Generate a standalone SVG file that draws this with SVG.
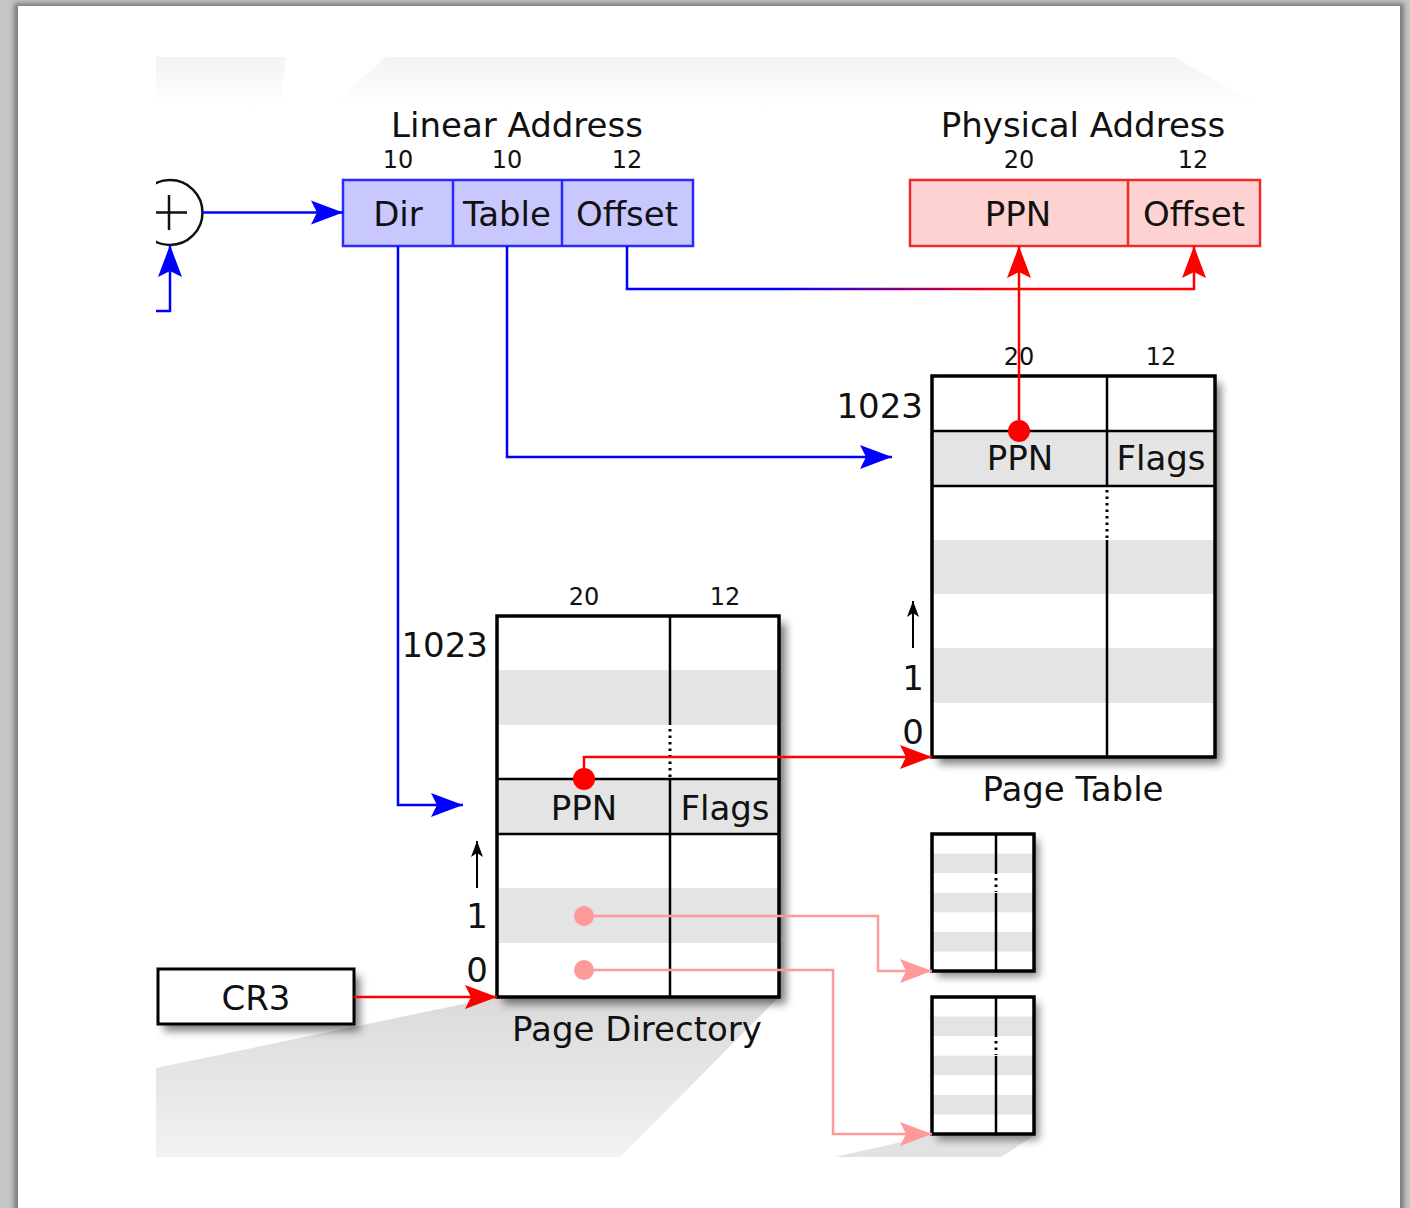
<svg xmlns="http://www.w3.org/2000/svg" xmlns:xlink="http://www.w3.org/1999/xlink" width="1410" height="1208" viewBox="0 0 1410 1208">
  <style>
    text { font-family: "DejaVu Sans", "Liberation Sans", sans-serif; fill: #111; }
    .big { font-size: 34px; }
    .small { font-size: 24px; }
    .mid { text-anchor: middle; }
    .end { text-anchor: end; }
    .border { fill: none; stroke: #000; stroke-width: 3.5; }
    .grid { fill: none; stroke: #000; stroke-width: 2.5; }
    .dots { fill: none; stroke: #000; stroke-width: 3; stroke-dasharray: 2.5 4; }
    .band { fill: #e4e4e4; }
    .blue { fill: none; stroke: #0000ff; stroke-width: 2.5; }
    .red { fill: none; stroke: #ff0000; stroke-width: 2.5; }
    .pink { fill: none; stroke: #ff9a9a; stroke-width: 2.5; }
  </style>
  <defs>
    <filter id="soft" x="-20%" y="-20%" width="140%" height="140%">
      <feGaussianBlur stdDeviation="4"/>
    </filter>
    <filter id="pageShadow" x="-5%" y="-5%" width="110%" height="110%">
      <feGaussianBlur stdDeviation="2.5"/>
    </filter>
    <clipPath id="sheet">
      <rect x="156" y="57" width="1200" height="1100"/>
    </clipPath>
    <linearGradient id="offsetGrad" gradientUnits="userSpaceOnUse" x1="780" y1="0" x2="1010" y2="0">
      <stop offset="0" stop-color="#0000ff"/>
      <stop offset="1" stop-color="#ff0000"/>
    </linearGradient>
    <linearGradient id="floorGrad" gradientUnits="userSpaceOnUse" x1="0" y1="997" x2="0" y2="1157">
      <stop offset="0" stop-color="#dadada"/>
      <stop offset="1" stop-color="#f2f2f2"/>
    </linearGradient>
    <linearGradient id="topFade" x1="0" y1="0" x2="0" y2="1">
      <stop offset="0" stop-color="#f3f3f3"/>
      <stop offset="1" stop-color="#ffffff"/>
    </linearGradient>
    <marker id="ahBlue" markerUnits="userSpaceOnUse" viewBox="-34 -15 36 30" markerWidth="36" markerHeight="30" refX="0" refY="0" orient="auto">
      <path d="M0,0 L-32,-12 L-26,0 L-32,12 Z" fill="#0000ff"/>
    </marker>
    <marker id="ahRed" markerUnits="userSpaceOnUse" viewBox="-34 -15 36 30" markerWidth="36" markerHeight="30" refX="0" refY="0" orient="auto">
      <path d="M0,0 L-32,-12 L-26,0 L-32,12 Z" fill="#ff0000"/>
    </marker>
    <marker id="ahPink" markerUnits="userSpaceOnUse" viewBox="-34 -15 36 30" markerWidth="36" markerHeight="30" refX="0" refY="0" orient="auto">
      <path d="M0,0 L-32,-12 L-26,0 L-32,12 Z" fill="#ff9a9a"/>
    </marker>
    <marker id="ahBlack" markerUnits="userSpaceOnUse" viewBox="-18 -8 20 16" markerWidth="20" markerHeight="16" refX="0" refY="0" orient="auto">
      <path d="M0,0 L-16,-6 L-12,0 L-16,6 Z" fill="#000"/>
    </marker>
    <!-- small page table, local coordinates 102 x 137, seven rows -->
    <g id="mini">
      <rect x="5" y="6" width="102" height="137" fill="#000" opacity="0.45" filter="url(#soft)"/>
      <rect x="0" y="0" width="102" height="137" fill="#fff"/>
      <rect class="band" x="0" y="19.6" width="102" height="19.6"/>
      <rect class="band" x="0" y="58.7" width="102" height="19.6"/>
      <rect class="band" x="0" y="97.9" width="102" height="19.6"/>
      <path class="grid" d="M64,0 V40 M64,59 V137"/>
      <path class="dots" d="M64,44 V58"/>
      <rect class="border" x="0" y="0" width="102" height="137"/>
    </g>
  </defs>

  <!-- page and its frame -->
  <rect width="1410" height="1208" fill="#c4c6c4"/>
  <rect x="14" y="3" width="1390" height="1215" fill="#7a7a7a" filter="url(#pageShadow)"/>
  <rect x="18" y="6" width="1382" height="1210" fill="#ffffff"/>

  <g clip-path="url(#sheet)">
    <!-- faint floor shading -->
    <g id="shading">
      <path d="M156,57 H286 L280,107 H156 Z" fill="url(#topFade)"/>
      <path d="M386,57 H1175 L1260,107 H330 Z" fill="url(#topFade)"/>
      <path d="M156,1068 L497,997 H779 L620,1157 H156 Z" fill="url(#floorGrad)"/>
      <path d="M835,1157 L932,1135 H1035 L1001,1157 Z" fill="#e2e2e2"/>
    </g>

    <!-- adder -->
    <g id="adder">
      <circle cx="170" cy="212.5" r="32.5" fill="#fff" stroke="#111" stroke-width="2.5"/>
      <path d="M156,212.5 H187 M169,195 V230" stroke="#111" stroke-width="2.5" fill="none"/>
    </g>

    <!-- linear address -->
    <g id="linear-address">
      <text class="big mid" x="517" y="137">Linear Address</text>
      <text class="small mid" x="398" y="168">10</text>
      <text class="small mid" x="507" y="168">10</text>
      <text class="small mid" x="627" y="168">12</text>
      <rect x="343" y="180" width="350" height="66" fill="#c8c8ff" stroke="#2a2aff" stroke-width="2.5"/>
      <path d="M453,180 V246 M562,180 V246" stroke="#2a2aff" stroke-width="2.5"/>
      <text class="big mid" x="398" y="226">Dir</text>
      <text class="big mid" x="507" y="226">Table</text>
      <text class="big mid" x="627" y="226">Offset</text>
    </g>

    <!-- physical address -->
    <g id="physical-address">
      <text class="big mid" x="1083" y="137">Physical Address</text>
      <text class="small mid" x="1019" y="168">20</text>
      <text class="small mid" x="1193" y="168">12</text>
      <rect x="910" y="180" width="350" height="66" fill="#ffd2d2" stroke="#ee2a2a" stroke-width="2.5"/>
      <path d="M1128,180 V246" stroke="#ee2a2a" stroke-width="2.5"/>
      <text class="big mid" x="1018" y="226">PPN</text>
      <text class="big mid" x="1194" y="226">Offset</text>
    </g>

    <!-- page table -->
    <g id="page-table">
      <rect x="938" y="383" width="283" height="381" fill="#000" opacity="0.5" filter="url(#soft)"/>
      <rect x="932" y="376" width="283" height="381" fill="#fff"/>
      <rect class="band" x="932" y="431" width="283" height="55"/>
      <rect class="band" x="932" y="540" width="283" height="54"/>
      <rect class="band" x="932" y="648" width="283" height="55"/>
      <path class="grid" d="M932,431 H1215 M932,486 H1215 M1107,376 V486 M1107,540 V757"/>
      <path class="dots" d="M1107,490 V538"/>
      <rect class="border" x="932" y="376" width="283" height="381"/>
      <text class="small mid" x="1019" y="365">20</text>
      <text class="small mid" x="1161" y="365">12</text>
      <text class="big end" x="923" y="418">1023</text>
      <text class="big mid" x="1020" y="470">PPN</text>
      <text class="big mid" x="1161" y="470">Flags</text>
      <path d="M913,648 V601" stroke="#000" stroke-width="2" marker-end="url(#ahBlack)"/>
      <text class="big mid" x="913" y="690">1</text>
      <text class="big mid" x="913" y="744">0</text>
      <text class="big mid" x="1073" y="801">Page Table</text>
    </g>

    <!-- page directory -->
    <g id="page-directory">
      <rect x="503" y="623" width="283" height="381" fill="#000" opacity="0.5" filter="url(#soft)"/>
      <rect x="497" y="616" width="282" height="381" fill="#fff"/>
      <rect class="band" x="497" y="670" width="282" height="55"/>
      <rect class="band" x="497" y="779" width="282" height="55"/>
      <rect class="band" x="497" y="888" width="282" height="55"/>
      <path class="grid" d="M497,779 H779 M497,834 H779 M670,616 V725 M670,779 V997"/>
      <path class="dots" d="M670,729 V777"/>
      <rect class="border" x="497" y="616" width="282" height="381"/>
      <text class="small mid" x="584" y="605">20</text>
      <text class="small mid" x="725" y="605">12</text>
      <text class="big end" x="488" y="657">1023</text>
      <text class="big mid" x="584" y="820">PPN</text>
      <text class="big mid" x="725" y="820">Flags</text>
      <path d="M477,888 V841" stroke="#000" stroke-width="2" marker-end="url(#ahBlack)"/>
      <text class="big mid" x="477" y="928">1</text>
      <text class="big mid" x="477" y="982">0</text>
      <text class="big mid" x="637" y="1041">Page Directory</text>
    </g>

    <!-- further page tables -->
    <g id="page-table-1">
      <use xlink:href="#mini" href="#mini" x="932" y="834"/>
    </g>
    <g id="page-table-0">
      <use xlink:href="#mini" href="#mini" x="932" y="997"/>
    </g>

    <!-- CR3 register -->
    <g id="cr3">
      <rect x="164" y="976" width="196" height="55" fill="#000" opacity="0.5" filter="url(#soft)"/>
      <rect x="158" y="969" width="196" height="55" fill="#fff" stroke="#000" stroke-width="3"/>
      <text class="big mid" x="256" y="1010">CR3</text>
    </g>

    <!-- connectors -->
    <g id="connectors">
      <path class="blue" d="M202,212.5 H343" marker-end="url(#ahBlue)"/>
      <path class="blue" d="M156,311 H170 V245" marker-end="url(#ahBlue)"/>
      <path class="blue" d="M398,246 V805 H463" marker-end="url(#ahBlue)"/>
      <path class="blue" d="M507,246 V457 H892" marker-end="url(#ahBlue)"/>
      <path d="M627,246 V289 H1194 V246" fill="none" stroke="url(#offsetGrad)" stroke-width="2.5" marker-end="url(#ahRed)"/>
      <path class="red" d="M1019,431 V246" marker-end="url(#ahRed)"/>
      <circle cx="1019" cy="431" r="11" fill="#ff0000"/>
      <path class="red" d="M584,779 V757 H932" marker-end="url(#ahRed)"/>
      <circle cx="584" cy="779" r="11" fill="#ff0000"/>
      <path class="red" d="M354,997 H497" stroke-width="3" marker-end="url(#ahRed)"/>
      <path class="pink" d="M584,916 H878 V971 H932" marker-end="url(#ahPink)"/>
      <circle cx="584" cy="916" r="10" fill="#ff9a9a"/>
      <path class="pink" d="M584,970 H833 V1134 H932" marker-end="url(#ahPink)"/>
      <circle cx="584" cy="970" r="10" fill="#ff9a9a"/>
    </g>
  </g>
</svg>
